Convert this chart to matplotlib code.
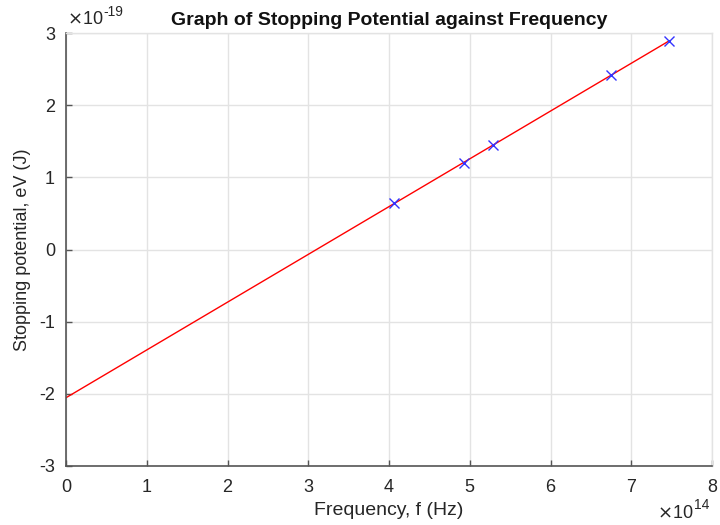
import numpy as np
import matplotlib.pyplot as plt

plt.rcParams['font.family'] = ['Liberation Sans', 'DejaVu Sans']

# frequency (x1e14 Hz) and stopping potential eV (x1e-19 J)
freq = [4.06, 4.925, 5.284, 6.75, 7.47]
stop_pot = [0.64, 1.198, 1.443, 2.42, 2.89]

x_ticks = [0, 1, 2, 3, 4, 5, 6, 7, 8]
y_ticks = [-3, -2, -1, 0, 1, 2, 3]

# straight-line fit through the points, drawn from f = 0 to the last point
k, c = np.polyfit(freq, stop_pot, 1)
fit_x = np.array([0, max(freq)])
fit_y = k * fit_x + c

txt = '#262626'
grid_c = '#e3e3e3'

fig = plt.figure(figsize=(7.2, 5.25), dpi=100)
ax = fig.add_axes([66/720, 59/525, 646/720, 433/525])

ax.plot(fit_x, fit_y, color='red', linewidth=1.0)
ax.plot(freq, stop_pot, 'x', color='#3333ff', markersize=6.5, markeredgewidth=1.0)

ax.set_xlim(0, 8)
ax.set_ylim(-3, 3)
ax.set_xticks(x_ticks)
ax.set_yticks(y_ticks)
ax.set_xticklabels([str(t) for t in x_ticks])
ax.set_yticklabels([str(t) for t in y_ticks])
ax.grid(True, color=grid_c, linewidth=1.0)
ax.set_axisbelow(True)

for s in ['left', 'bottom']:
    ax.spines[s].set_color('#555555')
    ax.spines[s].set_linewidth(1.2)
for s in ['top', 'right']:
    ax.spines[s].set_color(grid_c)
    ax.spines[s].set_linewidth(1.0)

ax.tick_params(direction='in', length=4, width=1.0, colors='#555555',
               labelcolor=txt, labelsize=13)
ax.tick_params(axis='x', pad=9)
ax.tick_params(axis='y', pad=8)

ax.set_xlabel('Frequency, f (Hz)', fontsize=14, color=txt, labelpad=5)
ax.set_ylabel('Stopping potential, eV (J)', fontsize=13, color=txt, labelpad=6)
ax.set_title('Graph of Stopping Potential against Frequency', fontsize=14,
             fontweight='bold', color='#111111', pad=6)

# MATLAB-style exponent labels
fig.text(67/720, 1 - 19/525, r'$\times$10', fontsize=13, color=txt,
         ha='left', va='center')
fig.text(103/720, 1 - 12/525, '-19', fontsize=10, color=txt,
         ha='left', va='center')
fig.text(693/720, 1 - 513/525, r'$\times$10', fontsize=13, color=txt,
         ha='right', va='center')
fig.text(694/720, 1 - 505/525, '14', fontsize=10, color=txt,
         ha='left', va='center')

fig.savefig('out.png', dpi=100)
